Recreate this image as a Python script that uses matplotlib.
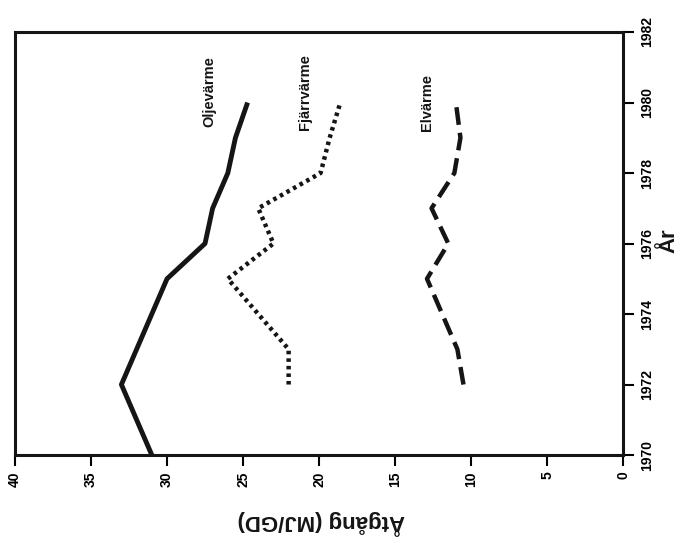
import numpy as np
from matplotlib import pyplot as plt

plt.rcParams['font.family'] = ['Liberation Sans', 'DejaVu Sans']
plt.rcParams['font.weight'] = 'bold'

# data
olje_years = [1970, 1972, 1975, 1976, 1977, 1978, 1979, 1980]
olje_values = [31.0, 33.0, 30.0, 27.5, 27.0, 26.0, 25.5, 24.7]

fjarr_years = [1972, 1973, 1975, 1976, 1977, 1978, 1979, 1980]
fjarr_values = [22.0, 22.0, 26.0, 23.0, 24.0, 19.9, 19.3, 18.6]

el_years = [1972, 1973, 1975, 1976, 1977, 1978, 1979, 1980]
el_values = [10.5, 10.9, 12.9, 11.5, 12.6, 11.1, 10.7, 11.0]

labels = ['Oljevärme', 'Fjärrvärme', 'Elvärme']
label_pos = [(27.2, 1980.3), (20.9, 1980.3), (12.9, 1980.0)]

value_ticks = [0, 5, 10, 15, 20, 25, 30, 35, 40]
year_ticks = [1970, 1972, 1974, 1976, 1978, 1980, 1982]

fig = plt.figure(figsize=(6.81, 5.43), dpi=100)
ax = fig.add_axes([0.022, 0.162, 0.893, 0.779])

# the scan is rotated: values run along the bottom, years up the right side
ax.plot(olje_values, olje_years, color='#151515', lw=3.5, solid_capstyle='butt')
ax.plot(fjarr_values, fjarr_years, color='#151515', lw=3.2, linestyle=(0, (0.8, 0.9)))
ax.plot(el_values, el_years, color='#151515', lw=3.2, linestyle=(0, (4.0, 1.8)))

for text, (vx, vy) in zip(labels, label_pos):
    ax.text(vx, vy, text, rotation=90, ha='center', va='center',
            fontsize=10.5, fontweight='bold', color='#151515')

ax.set_xlim(40, 0)
ax.set_ylim(1970, 1982)
ax.set_xticks(value_ticks)
ax.set_yticks(year_ticks)
ax.yaxis.tick_right()
ax.tick_params(axis='x', direction='out', length=8, width=1.5, pad=4, labelsize=10,
               labelrotation=90)
ax.tick_params(axis='y', direction='out', length=8, width=1.5, pad=4, labelsize=10,
               labelrotation=90)
for lab in ax.get_yticklabels():
    lab.set_va('center')
for sp in ax.spines.values():
    sp.set_linewidth(2.2)
    sp.set_color('#151515')

fig.text(0.472, 0.037, 'Åtgång (MJ/GD)', rotation=180, ha='center', va='center',
         fontsize=16, fontweight='bold', color='#151515')
fig.text(0.982, 0.556, 'År', rotation=90, ha='center', va='center',
         fontsize=16, fontweight='bold', color='#151515')

fig.savefig('out.png', dpi=100)
